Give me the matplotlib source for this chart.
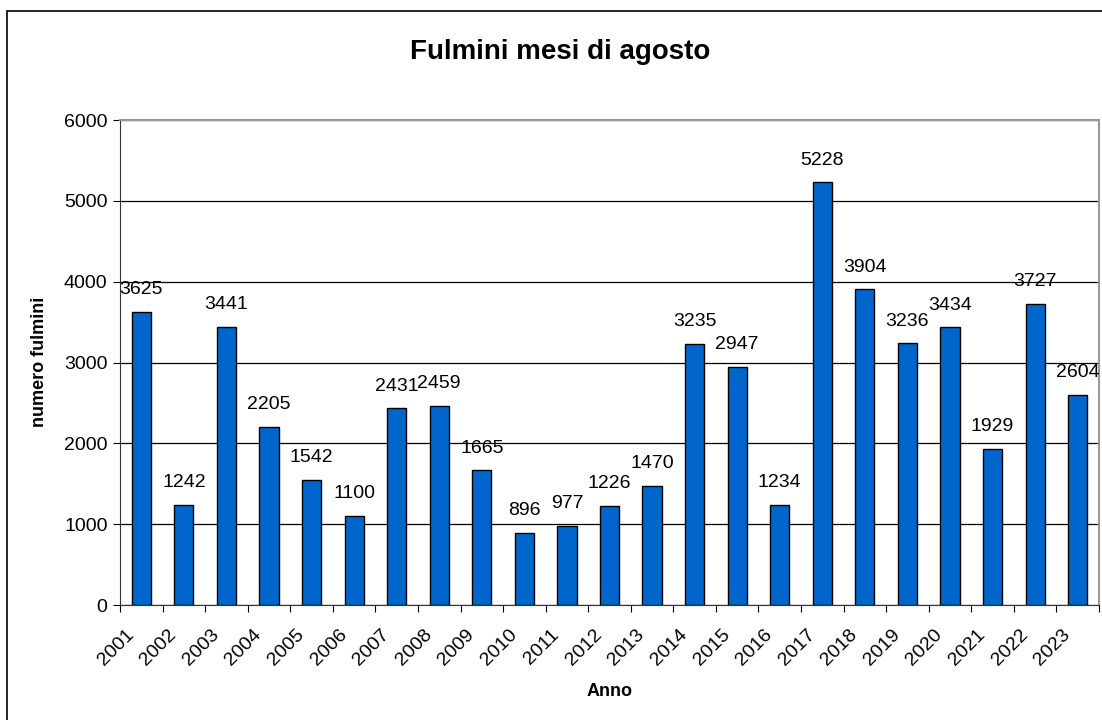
import matplotlib
matplotlib.use("Agg")
import matplotlib.pyplot as plt
import matplotlib.transforms as mtransforms
from matplotlib.patches import Rectangle

plt.rcParams["font.family"] = ["Liberation Sans", "DejaVu Sans"]

years = [str(y) for y in range(2001, 2024)]
lightning = [3625, 1242, 3441, 2205, 1542, 1100, 2431, 2459, 1665, 896, 977, 1226,
             1470, 3235, 2947, 1234, 5228, 3904, 3236, 3434, 1929, 3727, 2604]

W, H = 1102, 720
fig = plt.figure(figsize=(W / 100, H / 100), dpi=100)
fig.patch.set_facecolor("white")

# outer chart frame
fig.add_artist(Rectangle((7 / W, -0.01), 1.02, 1 - 11 / H + 0.01, transform=fig.transFigure,
                         fill=False, edgecolor="black", linewidth=1.2))

ax = fig.add_axes([120 / W, 1 - 605 / H, (1099 - 120) / W, (605 - 120) / H])
x = list(range(len(years)))
ax.bar(x, lightning, width=0.45, color="#0066CC", edgecolor="black", linewidth=1, zorder=3)

for xi, v in zip(x, lightning):
    ax.annotate(str(v), (xi, v), xytext=(0, 10), textcoords="offset points",
                ha="center", va="bottom", fontsize=14, zorder=4)

ax.set_xlim(-0.5, len(years) - 0.5)
ax.set_ylim(0, 6000)
ax.set_yticks(range(0, 6001, 1000))
ax.tick_params(axis="y", labelsize=14, length=5, pad=4)
ax.set_xticks([i - 0.5 for i in range(len(years) + 1)])
ax.set_xticklabels([])
ax.set_xticks(x, minor=True)
ax.set_xticklabels(years, minor=True, rotation=45, ha="right", rotation_mode="anchor", fontsize=14)
ax.tick_params(axis="x", which="major", length=5)
ax.tick_params(axis="x", which="minor", length=0, pad=15)
shift = mtransforms.ScaledTranslation(-16 / 100, 0, fig.dpi_scale_trans)
for lbl in ax.get_xticklabels(minor=True):
    lbl.set_transform(lbl.get_transform() + shift)

ax.grid(axis="y", color="black", linewidth=0.9, zorder=0)
for side in ["top", "right"]:
    ax.spines[side].set_color("#999999")
    ax.spines[side].set_linewidth(1.5)
ax.spines["left"].set_color("#333333")
ax.spines["bottom"].set_color("#333333")

fig.text(40 / W, 1 - 362 / H, "numero fulmini", rotation=90, ha="center", va="center",
         fontsize=13, fontweight="bold")
fig.text(610 / W, 1 - 691 / H, "Anno", ha="center", va="center", fontsize=13, fontweight="bold")
fig.text(560 / W, 1 - 52 / H, "Fulmini mesi di agosto", ha="center", va="center",
         fontsize=20, fontweight="bold")

fig.savefig("out.png", dpi=100)
